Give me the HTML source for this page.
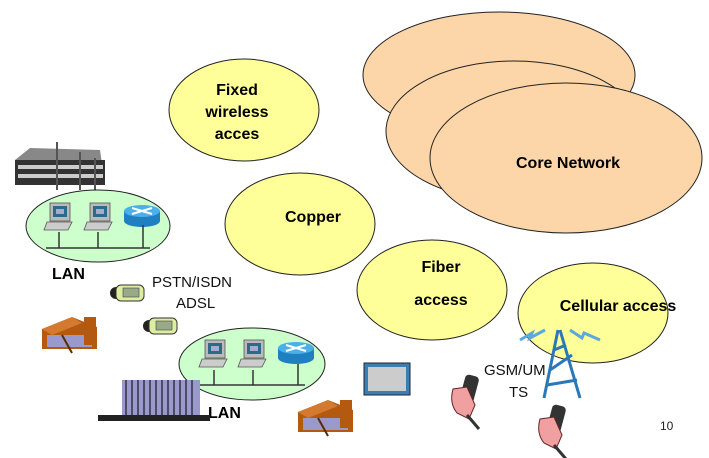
<!DOCTYPE html>
<html><head><meta charset="utf-8"><style>
html,body{margin:0;padding:0;background:#fff;}
svg{display:block;}
text{font-family:"Liberation Sans",Arial,sans-serif;}
.b{font-weight:bold;font-size:16px;fill:#000;}
.n{font-size:15px;fill:#111;}
</style></head><body>
<svg width="709" height="458" viewBox="0 0 709 458" xmlns="http://www.w3.org/2000/svg">
<defs>
<g id="pc">
 <rect x="0" y="0" width="20" height="18" fill="#bbb" stroke="#555" stroke-width="0.8"/>
 <rect x="3" y="3" width="14" height="11" fill="#2a6a8a"/>
 <rect x="6" y="6" width="8" height="5" fill="#aac"/>
 <polygon points="-3,19 22,19 18,27 -6,27" fill="#ccc" stroke="#555" stroke-width="0.8"/>
</g>
<g id="rt">
 <rect x="0" y="6" width="36" height="10" fill="#1f7fc0"/>
 <ellipse cx="18" cy="16" rx="18" ry="6" fill="#1f7fc0"/>
 <ellipse cx="18" cy="6" rx="18" ry="6" fill="#4ab0e8"/>
 <path d="M8 3 L28 9 M8 9 L28 3" stroke="#fff" stroke-width="2"/>
</g>
<g id="house">
 <polygon points="0,12 30,0 55,10 55,32 0,32" fill="#b35a10"/>
 <rect x="5" y="18" width="45" height="12" fill="#9999cc"/>
 <rect x="42" y="0" width="12" height="28" fill="#b35a10"/>
 <polygon points="0,12 30,0 40,6 10,18" fill="#d47a30"/>
 <path d="M20 18 L30 36" stroke="#5a2a00" stroke-width="2"/>
</g>
<g id="phone">
 <ellipse cx="4" cy="8" rx="6" ry="6" fill="#222"/>
 <rect x="4" y="0" width="28" height="16" rx="5" fill="#ddeea0" stroke="#333"/>
 <rect x="11" y="3" width="16" height="9" fill="#99aa88" stroke="#444" stroke-width="0.6"/>
</g>
<g id="hand">
 <rect x="12" y="0" width="14" height="38" rx="4" fill="#333" transform="rotate(15 19 19)"/>
 <path d="M4 14 Q0 28 8 38 L20 44 L26 30 L18 12 Z" fill="#f0a0a0" stroke="#622" stroke-width="1"/>
 <path d="M18 40 L30 54" stroke="#333" stroke-width="3"/>
</g>
</defs>

<ellipse cx="499" cy="75" rx="136" ry="63" fill="#fcd5a8" stroke="#222" stroke-width="1"/>
<ellipse cx="514" cy="131" rx="128" ry="70" fill="#fcd5a8" stroke="#222" stroke-width="1"/>
<ellipse cx="566" cy="158" rx="136" ry="75" fill="#fcd5a8" stroke="#222" stroke-width="1"/>
<text class="b" x="568" y="168" text-anchor="middle">Core Network</text>

<ellipse cx="244" cy="110" rx="75" ry="51" fill="#ffff99" stroke="#222"/>
<text class="b" x="237" y="95" text-anchor="middle">Fixed</text>
<text class="b" x="237" y="117" text-anchor="middle">wireless</text>
<text class="b" x="237" y="139" text-anchor="middle">acces</text>
<ellipse cx="300" cy="224" rx="75" ry="51" fill="#ffff99" stroke="#222"/>
<text class="b" x="313" y="222" text-anchor="middle">Copper</text>
<ellipse cx="432" cy="290" rx="75" ry="50" fill="#ffff99" stroke="#222"/>
<text class="b" x="441" y="272" text-anchor="middle">Fiber</text>
<text class="b" x="441" y="305" text-anchor="middle">access</text>
<ellipse cx="593" cy="313" rx="75" ry="50" fill="#ffff99" stroke="#222"/>
<text class="b" x="618" y="311" text-anchor="middle" font-size="17">Cellular access</text>

<g stroke="#2a78b8" stroke-width="3" fill="none">
 <path d="M558 330 L544 398 M560 330 L580 398 M550 370 L572 355 M547 385 L577 380 M554 350 L566 345"/>
</g>
<path d="M520 340 L532 333 L530 338 L545 330" stroke="#5aa8e0" stroke-width="3" fill="none"/>
<path d="M570 330 L582 338 L584 333 L600 340" stroke="#5aa8e0" stroke-width="3" fill="none"/>
<text class="n" x="484" y="375">GSM/UM</text>
<text class="n" x="509" y="397">TS</text>
<use href="#hand" x="449" y="375"/>
<use href="#hand" x="536" y="405"/>
<text x="660" y="430" font-size="12" fill="#222">10</text>

<g>
 <polygon points="15,160 30,148 100,150 105,185 15,185" fill="#888"/>
 <rect x="15" y="160" width="90" height="25" fill="#333"/>
 <rect x="18" y="165" width="85" height="4" fill="#ccc"/>
 <rect x="18" y="174" width="85" height="4" fill="#ccc"/>
 <path d="M57 142 V190 M80 152 V190 M95 158 V190" stroke="#555" stroke-width="2"/>
</g>
<ellipse cx="98" cy="226" rx="72" ry="36" fill="#ccffcc" stroke="#222"/>
<use href="#pc" x="50" y="203"/>
<use href="#pc" x="90" y="203"/>
<use href="#rt" x="124" y="205"/>
<path d="M46 248 H150 M59 232 V248 M98 232 V248 M143 225 V248" stroke="#333" stroke-width="1.5"/>
<text class="b" x="52" y="279" font-size="15">LAN</text>

<text class="n" x="152" y="287">PSTN/ISDN</text>
<text class="n" x="176" y="308">ADSL</text>
<use href="#phone" x="112" y="285"/>
<use href="#phone" x="145" y="318"/>
<use href="#house" x="42" y="317"/>

<ellipse cx="252" cy="364" rx="73" ry="36" fill="#ccffcc" stroke="#222"/>
<use href="#pc" x="205" y="340"/>
<use href="#pc" x="244" y="340"/>
<use href="#rt" x="278" y="342"/>
<path d="M200 385 H305 M214 370 V385 M253 370 V385 M298 364 V385" stroke="#333" stroke-width="1.5"/>
<text class="b" x="208" y="418" font-size="15">LAN</text>
<rect x="122" y="380" width="78" height="38" fill="#9999cc"/>
<path d="M126 380 V418 M132 380 V418 M138 380 V418 M144 380 V418 M150 380 V418 M156 380 V418 M162 380 V418 M168 380 V418 M174 380 V418 M180 380 V418 M186 380 V418 M192 380 V418" stroke="#334" stroke-width="1.5"/>
<rect x="98" y="415" width="112" height="6" fill="#222"/>
<rect x="364" y="363" width="46" height="32" fill="#3a7fb0" stroke="#223"/>
<rect x="368" y="367" width="38" height="24" fill="#ccc"/>
<use href="#house" x="298" y="400"/>
</svg>
</body></html>
